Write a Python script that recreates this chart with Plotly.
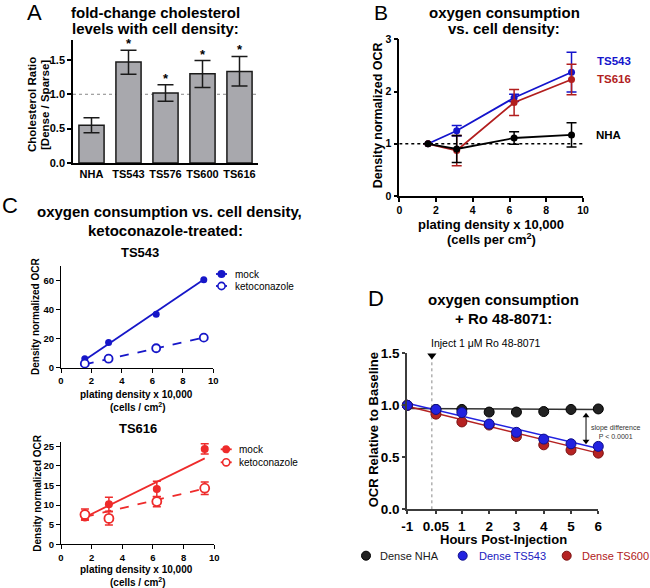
import plotly.graph_objects as go

W, H = 650, 588
def px(x): return x / W
def py(y): return 1 - y / H

FONT = "Liberation Sans, Arial, Helvetica, sans-serif"

# ---------------- Panel A data ----------------
a_cats = ["NHA", "TS543", "TS576", "TS600", "TS616"]
a_vals = [0.55, 1.47, 1.02, 1.30, 1.33]
a_err_hi = [0.11, 0.17, 0.12, 0.19, 0.22]
a_err_lo = [0.11, 0.18, 0.12, 0.20, 0.21]
a_sig = ["", "*", "*", "*", "*"]

# ---------------- Panel B data ----------------
b_x = [1.5625, 3.125, 6.25, 9.375]
b_ts543 = [1.0, 1.25, 1.88, 2.37]
b_ts543_err = [0, 0.10, 0.07, 0.38]
b_ts616 = [1.0, 0.87, 1.79, 2.23]
b_ts616_err = [0, 0.29, 0.25, 0.29]
b_nha = [1.0, 0.90, 1.11, 1.17]
b_nha_err = [0, 0.26, 0.12, 0.23]

# ---------------- Panel C data ----------------
c_x = [1.5625, 3.125, 6.25, 9.375]
c_fit_x = [1.5625, 9.375]
c1_mock = [6.2, 17.3, 36.8, 60.6]
c1_keto = [2.8, 6.2, 13.4, 20.7]
c1_mock_fit = [5.3, 60.7]
c1_keto_fit = [2.3, 20.7]
c2_mock = [6.8, 10.2, 14.1, 24.3]
c2_mock_err = [0.6, 1.8, 2.0, 1.3]
c2_keto = [7.6, 6.6, 10.9, 14.3]
c2_keto_err = [1.4, 1.7, 1.3, 1.6]
c2_mock_fit = [6.9, 21.9]
c2_keto_fit = [7.0, 14.2]

# ---------------- Panel D data ----------------
d_x = [-1, 0.05, 1, 2, 3, 4, 5, 6]
d_ticks = ["-1", "0.05", "1", "2", "3", "4", "5", "6"]
d_nha = [1.0, 0.96, 0.96, 0.935, 0.935, 0.94, 0.96, 0.965]
d_ts543 = [1.0, 0.96, 0.93, 0.82, 0.74, 0.675, 0.63, 0.605]
d_ts600 = [1.0, 0.915, 0.84, 0.81, 0.70, 0.62, 0.57, 0.54]
d_fit_x = [-1, 6]
d_nha_fit = [0.97, 0.96]
d_ts543_fit = [1.02, 0.585]
d_ts600_fit = [0.99, 0.54]
d_inject_x = -0.1

BLUE_B = "#1414CC"
RED_B = "#B21E1E"
BLUE_C = "#1616C8"
RED_C = "#EE2B2B"
BLUE_D = "#2222E0"
RED_D = "#B52222"

fig = go.Figure()

# Panel A
fig.add_trace(go.Bar(
    x=a_cats, y=a_vals, xaxis="x", yaxis="y", width=0.68,
    marker=dict(color="#A8A8AD", line=dict(color="#1a1a1a", width=1.5)),
    error_y=dict(type="data", symmetric=False, array=a_err_hi, arrayminus=a_err_lo,
                 color="#1a1a1a", thickness=1.5, width=8)))

# Panel B
for yv, err, col in [(b_ts543, b_ts543_err, BLUE_B), (b_ts616, b_ts616_err, RED_B),
                     (b_nha, b_nha_err, "black")]:
    fig.add_trace(go.Scatter(
        x=b_x, y=yv, xaxis="x2", yaxis="y2", mode="lines+markers", cliponaxis=False,
        line=dict(color=col, width=1.8), marker=dict(size=7, color=col),
        error_y=dict(type="data", array=err, color=col, thickness=1.5, width=5)))

# Panel C1 (TS543)
fig.add_trace(go.Scatter(x=c_fit_x, y=c1_mock_fit, xaxis="x3", yaxis="y3", mode="lines",
                         line=dict(color=BLUE_C, width=1.8)))
fig.add_trace(go.Scatter(x=c_fit_x, y=c1_keto_fit, xaxis="x3", yaxis="y3", mode="lines",
                         line=dict(color=BLUE_C, width=1.8, dash="dash")))
fig.add_trace(go.Scatter(x=c_x, y=c1_mock, xaxis="x3", yaxis="y3", mode="markers", cliponaxis=False,
                         marker=dict(size=7, color=BLUE_C)))
fig.add_trace(go.Scatter(x=c_x, y=c1_keto, xaxis="x3", yaxis="y3", mode="markers", cliponaxis=False,
                         marker=dict(size=8, color="white", line=dict(color=BLUE_C, width=1.8))))

# Panel C2 (TS616)
fig.add_trace(go.Scatter(x=c_fit_x, y=c2_mock_fit, xaxis="x4", yaxis="y4", mode="lines",
                         line=dict(color=RED_C, width=1.8)))
fig.add_trace(go.Scatter(x=c_fit_x, y=c2_keto_fit, xaxis="x4", yaxis="y4", mode="lines",
                         line=dict(color=RED_C, width=1.8, dash="dash")))
fig.add_trace(go.Scatter(x=c_x, y=c2_mock, xaxis="x4", yaxis="y4", mode="markers", cliponaxis=False,
                         marker=dict(size=8, color=RED_C),
                         error_y=dict(type="data", array=c2_mock_err, color=RED_C, thickness=1.5, width=4)))
fig.add_trace(go.Scatter(x=c_x, y=c2_keto, xaxis="x4", yaxis="y4", mode="markers", cliponaxis=False,
                         marker=dict(size=9, color="white", line=dict(color=RED_C, width=1.8)),
                         error_y=dict(type="data", array=c2_keto_err, color=RED_C, thickness=1.5, width=4)))

# Panel D
for fy, col in [(d_nha_fit, "#333333"), (d_ts600_fit, RED_D), (d_ts543_fit, BLUE_D)]:
    fig.add_trace(go.Scatter(x=d_fit_x, y=fy, xaxis="x5", yaxis="y5", mode="lines", cliponaxis=False,
                             line=dict(color=col, width=1.5)))
for yv, col, oc in [(d_nha, "#222222", "#000000"), (d_ts600, RED_D, "#7a1212"), (d_ts543, BLUE_D, "#10108a")]:
    fig.add_trace(go.Scatter(x=d_x, y=yv, xaxis="x5", yaxis="y5", mode="markers", cliponaxis=False,
                             marker=dict(size=10, color=col, line=dict(color=oc, width=1))))
fig.add_trace(go.Scatter(x=[d_inject_x], y=[1.48], xaxis="x5", yaxis="y5", mode="markers", cliponaxis=False,
                         marker=dict(symbol="triangle-down", size=8, color="black")))
# double-headed arrow between the slopes
fig.add_trace(go.Scatter(x=[5.55, 5.55], y=[0.655, 0.90], xaxis="x5", yaxis="y5", mode="lines+markers",
                         cliponaxis=False, line=dict(color="black", width=1),
                         marker=dict(symbol=["triangle-down", "triangle-up"], size=6, color="black")))


def ax(domain, anchor, size, lw=1.5, lc="black", **kw):
    d = dict(domain=domain, anchor=anchor, showgrid=False, zeroline=False, showline=True,
             linecolor=lc, linewidth=lw, ticks="outside", ticklen=4, tickwidth=lw, tickcolor=lc,
             automargin=False, fixedrange=True,
             tickfont=dict(family=FONT, size=size, color="black", weight="bold"))
    d.update(kw)
    return d

layout = dict(
    width=W, height=H, margin=dict(l=0, r=0, t=0, b=0), showlegend=False,
    paper_bgcolor="white", plot_bgcolor="white", template="none",
    font=dict(family=FONT, color="black"),
    xaxis=ax([px(73), px(258)], "y", 11, type="category", range=[-0.5, 4.5], ticks=""),
    yaxis=ax([py(163), py(40)], "x", 11, range=[0, 1.79], tickvals=[0, 0.5, 1.0, 1.5], tickformat=".1f"),
    xaxis2=ax([px(399.3), px(583)], "y2", 10.5, range=[0, 10], tickvals=[0, 2, 4, 6, 8, 10]),
    yaxis2=ax([py(196), py(39.3)], "x2", 10.5, range=[0, 3], tickvals=[0, 1, 2, 3]),
    xaxis3=ax([px(61), px(213.3)], "y3", 9.5, lw=1.2, range=[0, 10], tickvals=[0, 2, 4, 6, 8, 10]),
    yaxis3=ax([py(367.7), py(266)], "x3", 9.5, lw=1.2, range=[0, 70], tickvals=[0, 20, 40, 60]),
    xaxis4=ax([px(61), px(214.3)], "y4", 9.5, lw=1.2, range=[0, 10], tickvals=[0, 2, 4, 6, 8, 10]),
    yaxis4=ax([py(544.3), py(442.3)], "x4", 9.5, lw=1.2, range=[0, 26], tickvals=[0, 5, 10, 15, 20, 25]),
    xaxis5=ax([px(407.3), px(598.3)], "y5", 13.5, lw=2, lc="#3c3c3c", range=[-1, 6],
              tickvals=d_x, ticktext=d_ticks, ticklen=3),
    yaxis5=ax([py(509.3), py(353.3)], "x5", 13.5, lw=2, lc="#3c3c3c", range=[0, 1.5],
              tickvals=[0, 0.5, 1.0, 1.5], tickformat=".1f", ticklen=3),
)
fig.update_layout(**layout)

ann = []
def txt(text, x, y, size, bold=False, color="black", xanchor="center", yanchor="middle", angle=0):
    ann.append(dict(text=f"<b>{text}</b>" if bold else text, x=px(x), y=py(y), xref="paper", yref="paper",
                    showarrow=False, xanchor=xanchor, yanchor=yanchor, textangle=angle,
                    font=dict(family=FONT, size=size, color=color)))

# Panel letters
txt("A", 34, 12, 22)
txt("B", 381, 12.5, 21)
txt("C", 10, 205, 22)
txt("D", 375.5, 298, 22)

# Panel A text
txt("fold-change cholesterol", 155, 12.8, 15, True)
txt("levels with cell density:", 155, 28.6, 15, True)
txt("Cholesterol Ratio", 32, 105, 11.5, True, angle=-90)
txt("[Dense / Sparse]", 45, 105, 11.5, True, angle=-90)
for c, v, e, s in zip(a_cats, a_vals, a_err_hi, a_sig):
    if s:
        ann.append(dict(text=f"<b>{s}</b>", x=c, y=v + e, xref="x", yref="y", showarrow=False,
                        yanchor="bottom", yshift=-3, font=dict(family=FONT, size=13, color="black")))

# Panel B text
txt("oxygen consumption", 504.3, 12.9, 15, True)
txt("vs. cell density:", 504.3, 28.6, 15, True)
txt("Density normalized OCR", 378.3, 115, 12.5, True, angle=-90)
txt("plating density x 10,000", 491, 224, 13, True)
txt("(cells per cm<sup>2</sup>)", 491, 239.3, 13, True)
txt("TS543", 595, 61, 11.5, True, color=BLUE_B, xanchor="left")
txt("TS616", 595, 79, 11.5, True, color=RED_B, xanchor="left")
txt("NHA", 594.3, 134.7, 11.5, True, xanchor="left")

# Panel C text
txt("oxygen consumption vs. cell density,", 169, 211.7, 15, True)
txt("ketoconazole-treated:", 165.8, 230, 15, True)
txt("TS543", 140, 252.7, 13, True)
txt("Density normalized OCR", 35, 317, 10, True, angle=-90)
txt("plating density x 10,000", 136.7, 394, 10, True)
txt("(cells / cm<sup>2</sup>)", 137.5, 406.7, 10, True)
txt("TS616", 138, 428.3, 13, True)
txt("Density normalized OCR", 36.7, 493, 10, True, angle=-90)
txt("plating density x 10,000", 136.7, 569, 10, True)
txt("(cells / cm<sup>2</sup>)", 137.5, 582, 10, True)

shapes = []
def leg_item(x0, x1, y, col, filled, tx, label):
    shapes.append(dict(type="line", xref="paper", yref="paper", x0=px(x0), x1=px(x1), y0=py(y), y1=py(y),
                       line=dict(color=col, width=1.8)))
    cx = (x0 + x1) / 2
    r = 3.2 if filled else 3.6
    shapes.append(dict(type="circle", xref="paper", yref="paper", x0=px(cx - r), x1=px(cx + r),
                       y0=py(y + r), y1=py(y - r), fillcolor=col if filled else "white",
                       line=dict(color=col, width=1.6)))
    txt(label, tx, y, 10, xanchor="left")

leg_item(216, 227, 274, BLUE_C, True, 232.7, "mock")
leg_item(216, 227, 286, BLUE_C, False, 232.7, "ketoconazole")
leg_item(220.7, 231.7, 449.3, RED_C, True, 237.3, "mock")
leg_item(220.7, 231.7, 462.3, RED_C, False, 237.3, "ketoconazole")

# Panel D text
txt("oxygen consumption", 503.3, 299.3, 15, True)
txt("+ Ro 48-8071:", 503.3, 318.3, 15, True)
txt("OCR Relative to Baseline", 373.3, 430, 13, True, angle=-90)
txt("Hours Post-Injection", 503, 539, 13, True)
txt("Inject 1 μM Ro 48-8071", 429.3, 342.7, 10.5, xanchor="left")
txt("slope difference<br>P < 0.0001", 615, 431.5, 7, color="#333333")
for cx, col, oc, tx, label, tcol in [(366, "#222222", "#000000", 378, "Dense NHA", "#1a1a1a"),
                                     (462.7, BLUE_D, "#10108a", 476.7, "Dense TS543", "#2020C0"),
                                     (566.7, RED_D, "#7a1212", 579.5, "Dense TS600", "#B02020")]:
    r = 4.5
    shapes.append(dict(type="circle", xref="paper", yref="paper", x0=px(cx - r), x1=px(cx + r),
                       y0=py(555.7 + r), y1=py(555.7 - r), fillcolor=col, line=dict(color=oc, width=1)))
    txt(label, tx, 555.7, 11, color=tcol, xanchor="left")

# reference lines
shapes.append(dict(type="line", xref="x", yref="y", x0=-0.5, x1=4.5, y0=1, y1=1, layer="below",
                   line=dict(color="#888888", width=1, dash="dot")))
shapes.append(dict(type="line", xref="x2", yref="y2", x0=0, x1=10, y0=1, y1=1, layer="below",
                   line=dict(color="black", width=1.5, dash="dot")))
shapes.append(dict(type="line", xref="x5", yref="y5", x0=d_inject_x, x1=d_inject_x, y0=0, y1=1.5,
                   layer="below", line=dict(color="#888888", width=1, dash="dot")))

fig.update_layout(annotations=ann, shapes=shapes)
# remove the browser's default 8px page margin so the 650x588 figure fills the window exactly
fig.write_html("out.html", config={"displayModeBar": False},
               post_script="document.body.style.margin='0px';document.body.style.overflow='hidden';")
